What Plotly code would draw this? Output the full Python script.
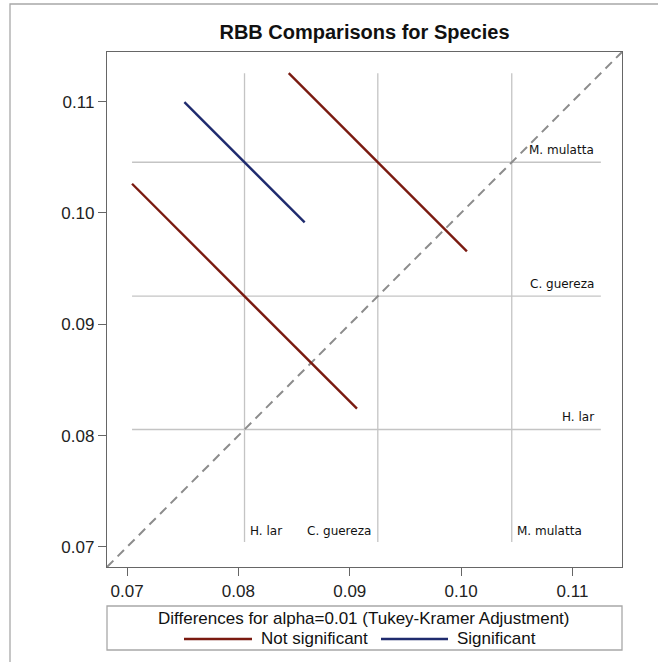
import plotly.graph_objects as go

# LS-means of RBB by species
species = ["H. lar", "C. guereza", "M. mulatta"]
lsmeans = [0.08055, 0.09252, 0.10455]
# side of the vertical reference line on which each bottom label sits
bottom_label_side = ["right", "left", "right"]

# pairwise differences (first - second) with Tukey-Kramer 99% limits
pair_first = ["H. lar", "H. lar", "C. guereza"]
pair_second = ["C. guereza", "M. mulatta", "M. mulatta"]
diff_lower = [-0.03217, -0.03480, -0.02803]
diff_upper = [0.00823, -0.01320, 0.00397]

axis_range = [0.0682, 0.11445]
tick_vals = [0.07, 0.08, 0.09, 0.10, 0.11]
tick_text = ["0.07", "0.08", "0.09", "0.10", "0.11"]

legend_title = "Differences for alpha=0.01 (Tukey-Kramer Adjustment)"
legend_names = ["Not significant", "Significant"]
legend_colors = ["#7a1a10", "#1f2b6e"]

W, H = 658, 662
ML, MR, MT, MB = 107, 36, 52, 95
PW, PH = W - ML - MR, H - MT - MB

def px_x(px):
    return (px - ML) / PW

def px_y(py):
    return (H - MB - py) / PH

mean_of = dict(zip(species, lsmeans))

# segment end points for each comparison
segments = []
for a, b, lo, hi in zip(pair_first, pair_second, diff_lower, diff_upper):
    cx, cy = mean_of[a], mean_of[b]
    h = (hi - lo) / 4
    sig = hi < 0 or lo > 0
    segments.append(([cx - h, cx + h], [cy + h, cy - h], sig))

ref_lo = min(min(s[0] + s[1]) for s in segments)
ref_hi = max(max(s[0] + s[1]) for s in segments)

fig = go.Figure()

FONT = "Liberation Sans, Arial, sans-serif"
LABEL_FONT = dict(family="DejaVu Sans", size=12, color="#111")

# reference lines at each LS-mean
for m in lsmeans:
    fig.add_trace(go.Scatter(x=[ref_lo, ref_hi], y=[m, m], mode="lines",
                             line=dict(color="#c4c4c4", width=1.3),
                             showlegend=False, hoverinfo="skip"))
    fig.add_trace(go.Scatter(x=[m, m], y=[ref_lo, ref_hi], mode="lines",
                             line=dict(color="#c4c4c4", width=1.3),
                             showlegend=False, hoverinfo="skip"))

# line of equality
fig.add_trace(go.Scatter(x=axis_range, y=axis_range, mode="lines",
                         line=dict(color="#8c8c8c", width=2, dash="9px,6px"),
                         showlegend=False, hoverinfo="skip"))

# comparison segments
for xs, ys, sig in segments:
    fig.add_trace(go.Scatter(x=xs, y=ys, mode="lines",
                             line=dict(color=legend_colors[1 if sig else 0], width=2.4),
                             showlegend=False, hoverinfo="skip"))

annotations = []
for name, m, side in zip(species, lsmeans, bottom_label_side):
    # label on the right end of the horizontal line
    annotations.append(dict(x=ref_hi, y=m, xref="x", yref="y", text=name,
                            showarrow=False, xanchor="right", yanchor="middle",
                            xshift=-5, yshift=12, font=LABEL_FONT))
    # label at the bottom of the vertical line
    annotations.append(dict(x=m, y=ref_lo, xref="x", yref="y", text=name,
                            showarrow=False,
                            xanchor="left" if side == "right" else "right",
                            yanchor="middle",
                            xshift=3 if side == "right" else -5, yshift=11,
                            font=LABEL_FONT))

# key below the plot
annotations.append(dict(x=px_x(364), y=px_y(618), xref="paper", yref="paper",
                        text=legend_title, showarrow=False, xanchor="center",
                        yanchor="middle", font=dict(family=FONT, size=17, color="#111")))
key_sample_x = [(184, 252), (381, 448)]
key_text_x = [259, 455]
shapes = []
for (x0, x1), tx, name, col in zip(key_sample_x, key_text_x, legend_names, legend_colors):
    shapes.append(dict(type="line", xref="paper", yref="paper",
                       x0=px_x(x0), x1=px_x(x1), y0=px_y(639), y1=px_y(639),
                       line=dict(color=col, width=2.6)))
    annotations.append(dict(x=px_x(tx), y=px_y(638.5), xref="paper", yref="paper",
                            text=name, showarrow=False, xanchor="left", yanchor="middle",
                            font=dict(family=FONT, size=17, color="#111")))

# key box
shapes.append(dict(type="rect", xref="paper", yref="paper",
                   x0=px_x(107), x1=px_x(622), y0=px_y(650), y1=px_y(606),
                   line=dict(color="#a8a8a8", width=1.3)))
# outer frame of the graph
shapes.append(dict(type="rect", xref="paper", yref="paper",
                   x0=px_x(10), x1=px_x(720), y0=px_y(720), y1=px_y(4),
                   line=dict(color="#a8a8a8", width=1.3)))

axis_common = dict(range=axis_range, tickvals=tick_vals, ticktext=tick_text,
                   showgrid=False, zeroline=False, showline=True, mirror=True,
                   linecolor="#666666", linewidth=1.3, ticks="outside", ticklen=8,
                   tickcolor="#666666", tickwidth=1.3,
                   tickfont=dict(family=FONT, size=17, color="#222"))

fig.update_layout(
    width=W, height=H,
    margin=dict(l=ML, r=MR, t=MT, b=MB),
    paper_bgcolor="white", plot_bgcolor="white",
    title=dict(text="RBB Comparisons for Species", x=px_x(364.5), xref="paper",
               xanchor="center", y=1 - 32 / H, yref="container", yanchor="middle",
               font=dict(family=FONT, size=20, color="#111", weight="bold")),
    xaxis=dict(**axis_common),
    yaxis=dict(**axis_common),
    annotations=annotations,
    shapes=shapes,
    showlegend=False,
)

fig.write_html("out.html")
